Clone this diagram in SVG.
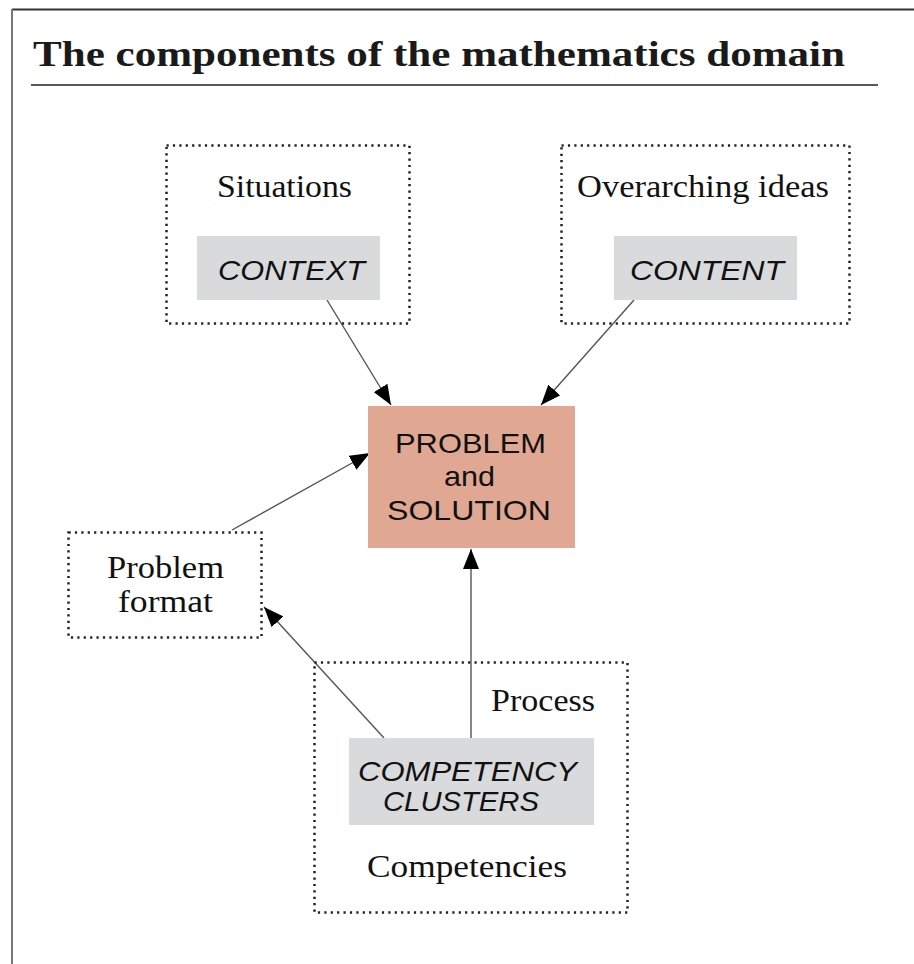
<svg xmlns="http://www.w3.org/2000/svg" width="914" height="964" viewBox="0 0 914 964">
<style>
.frame{fill:none;stroke:#222;stroke-width:2.5;stroke-dasharray:2.2 4.2}
.box{fill:#d9dadc}
.serif{font-family:"Liberation Serif","Times New Roman",serif;fill:#111;font-size:31px}
.hand{font-family:"Liberation Sans",Arial,sans-serif;fill:#111;font-size:28px}
.conn line{stroke:#555;stroke-width:1.4}
</style>
<defs>
<marker id="ah" viewBox="0 0 20 16" refX="20" refY="8" markerWidth="20" markerHeight="16" markerUnits="userSpaceOnUse" orient="auto">
<path d="M0,0 L20,8 L0,16 Z" fill="#000"/>
</marker>
</defs>
<rect width="914" height="964" fill="#fff"/>
<line x1="12" y1="9.5" x2="914" y2="9.5" stroke="#333" stroke-width="2"/>
<line x1="12" y1="9" x2="12" y2="964" stroke="#777" stroke-width="2"/>
<text x="33" y="66" font-family="Liberation Serif,serif" font-weight="bold" font-size="36" fill="#1a1a1a" textLength="812" lengthAdjust="spacingAndGlyphs">The components of the mathematics domain</text>
<line x1="31" y1="85" x2="878" y2="85" stroke="#222" stroke-width="1.5"/>
<g class="conn">
<line x1="327" y1="300" x2="391" y2="405" marker-end="url(#ah)"/>
<line x1="634" y1="300" x2="541" y2="405" marker-end="url(#ah)"/>
<line x1="232" y1="530" x2="370" y2="453" marker-end="url(#ah)"/>
<line x1="471" y1="738" x2="471" y2="549" marker-end="url(#ah)"/>
<line x1="384" y1="738" x2="264" y2="607" marker-end="url(#ah)"/>
</g>
<g id="context">
<rect class="frame" x="166.5" y="145.5" width="243" height="178"/>
<text class="serif" x="217" y="197" textLength="135" lengthAdjust="spacingAndGlyphs">Situations</text>
<rect class="box" x="197" y="236" width="183" height="64"/>
<text class="hand" x="218" y="280" font-style="italic" textLength="147" lengthAdjust="spacingAndGlyphs">CONTEXT</text>
</g>
<g id="content">
<rect class="frame" x="561.5" y="145.5" width="288" height="178"/>
<text class="serif" x="577" y="197" textLength="252" lengthAdjust="spacingAndGlyphs">Overarching ideas</text>
<rect class="box" x="614" y="236" width="183" height="64"/>
<text class="hand" x="630" y="280" font-style="italic" textLength="154" lengthAdjust="spacingAndGlyphs">CONTENT</text>
</g>
<g id="problem">
<rect x="368" y="406" width="207" height="142" fill="#e0a893"/>
<text class="hand" x="395" y="453" textLength="151" lengthAdjust="spacingAndGlyphs">PROBLEM</text>
<text class="hand" x="444" y="486" textLength="51" lengthAdjust="spacingAndGlyphs">and</text>
<text class="hand" x="387" y="520" textLength="164" lengthAdjust="spacingAndGlyphs">SOLUTION</text>
</g>
<g id="format">
<rect class="frame" x="68.5" y="532.5" width="193" height="105"/>
<text class="serif" x="107" y="578" font-size="30" textLength="117" lengthAdjust="spacingAndGlyphs">Problem</text>
<text class="serif" x="118" y="612" font-size="30" textLength="95" lengthAdjust="spacingAndGlyphs">format</text>
</g>
<g id="competencies">
<rect class="frame" x="314.5" y="662.5" width="313" height="250"/>
<text class="serif" x="491" y="711" textLength="104" lengthAdjust="spacingAndGlyphs">Process</text>
<rect class="box" x="349" y="738" width="245" height="87"/>
<text class="hand" x="358" y="781" font-size="27" font-style="italic" textLength="219" lengthAdjust="spacingAndGlyphs">COMPETENCY</text>
<text class="hand" x="383" y="811" font-size="27" font-style="italic" textLength="156" lengthAdjust="spacingAndGlyphs">CLUSTERS</text>
<text class="serif" x="367" y="877" textLength="200" lengthAdjust="spacingAndGlyphs">Competencies</text>
</g>
</svg>
